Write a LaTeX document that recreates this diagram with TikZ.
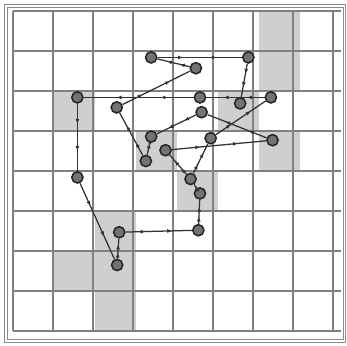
\documentclass[tikz,border=0pt]{standalone}
\usepackage{xcolor}
\usepackage{tikz}
\usetikzlibrary{arrows.meta,decorations.markings}

\begin{document}
\begin{tikzpicture}[
  x=1.025cm,y=-1cm,
  pt/.style={circle,draw=black!85,fill=black!55,line width=1.1pt,minimum size=2.8mm,inner sep=0pt},
  arr/.style={draw=black!80,line width=0.9pt,postaction={decorate},
    decoration={markings,
      mark=at position 0.3 with {\arrow{Latex[length=1.2mm,width=1mm]}},
      mark=at position 0.7 with {\arrow{Latex[length=1.2mm,width=1mm]}}}},
  cell/.style={fill=black!19,draw=none}
]
\useasboundingbox (-0.317,-0.275) rectangle (8.146,8.35);
% frame
\draw[black!45,line width=0.5pt] (-0.22,-0.175) rectangle (8.10,8.275);
\draw[black!45,line width=0.5pt] (-0.146,-0.1) rectangle (8.05,8.2);
% shaded cells
\fill[cell] (6,0) rectangle (7,2);
\fill[cell] (1,2) rectangle (2,3);
\fill[cell] (5,2) rectangle (6,3);
\fill[cell] (3,3) rectangle (4,4);
\fill[cell] (6,3) rectangle (7,4);
\fill[cell] (4,4) rectangle (5,5);
\fill[cell] (2,5) rectangle (3,6);
\fill[cell] (1,6) rectangle (3,7);
\fill[cell] (2,7) rectangle (3,8);
% grid
\draw[black!50,line width=1pt] (0,0) grid (8,8);
% points
\node[pt] (p1) at (3.37,1.16) {};
\node[pt] (p2) at (5.74,1.16) {};
\node[pt] (p3) at (4.46,1.43) {};
\node[pt] (p4) at (1.57,2.16) {};
\node[pt] (p5) at (4.56,2.16) {};
\node[pt] (p6) at (5.54,2.31) {};
\node[pt] (p7) at (6.29,2.16) {};
\node[pt] (p8) at (2.53,2.41) {};
\node[pt] (p9) at (4.60,2.53) {};
\node[pt] (p10) at (3.37,3.14) {};
\node[pt] (p11) at (4.82,3.18) {};
\node[pt] (p12) at (6.33,3.23) {};
\node[pt] (p13) at (3.72,3.48) {};
\node[pt] (p14) at (3.24,3.75) {};
\node[pt] (p15) at (1.57,4.16) {};
\node[pt] (p16) at (4.33,4.20) {};
\node[pt] (p17) at (4.56,4.56) {};
\node[pt] (p18) at (4.52,5.48) {};
\node[pt] (p19) at (2.59,5.53) {};
\node[pt] (p20) at (2.54,6.35) {};
% path
\draw[arr] (p16)--(p11);
\draw[arr] (p11)--(p7);
\draw[arr] (p7)--(p5);
\draw[arr] (p5)--(p4);
\draw[arr] (p4)--(p15);
\draw[arr] (p15)--(p20);
\draw[arr] (p20)--(p19);
\draw[arr] (p19)--(p18);
\draw[arr] (p18)--(p17);
\draw[arr] (p17)--(p16);
\draw[arr] (p16)--(p13);
\draw[arr] (p13)--(p12);
\draw[arr] (p12)--(p9);
\draw[arr] (p9)--(p10);
\draw[arr] (p10)--(p14);
\draw[arr] (p14)--(p8);
\draw[arr] (p8)--(p3);
\draw[arr] (p3)--(p1);
\draw[arr] (p1)--(p2);
\draw[arr] (p2)--(p6);
\end{tikzpicture}
\end{document}
